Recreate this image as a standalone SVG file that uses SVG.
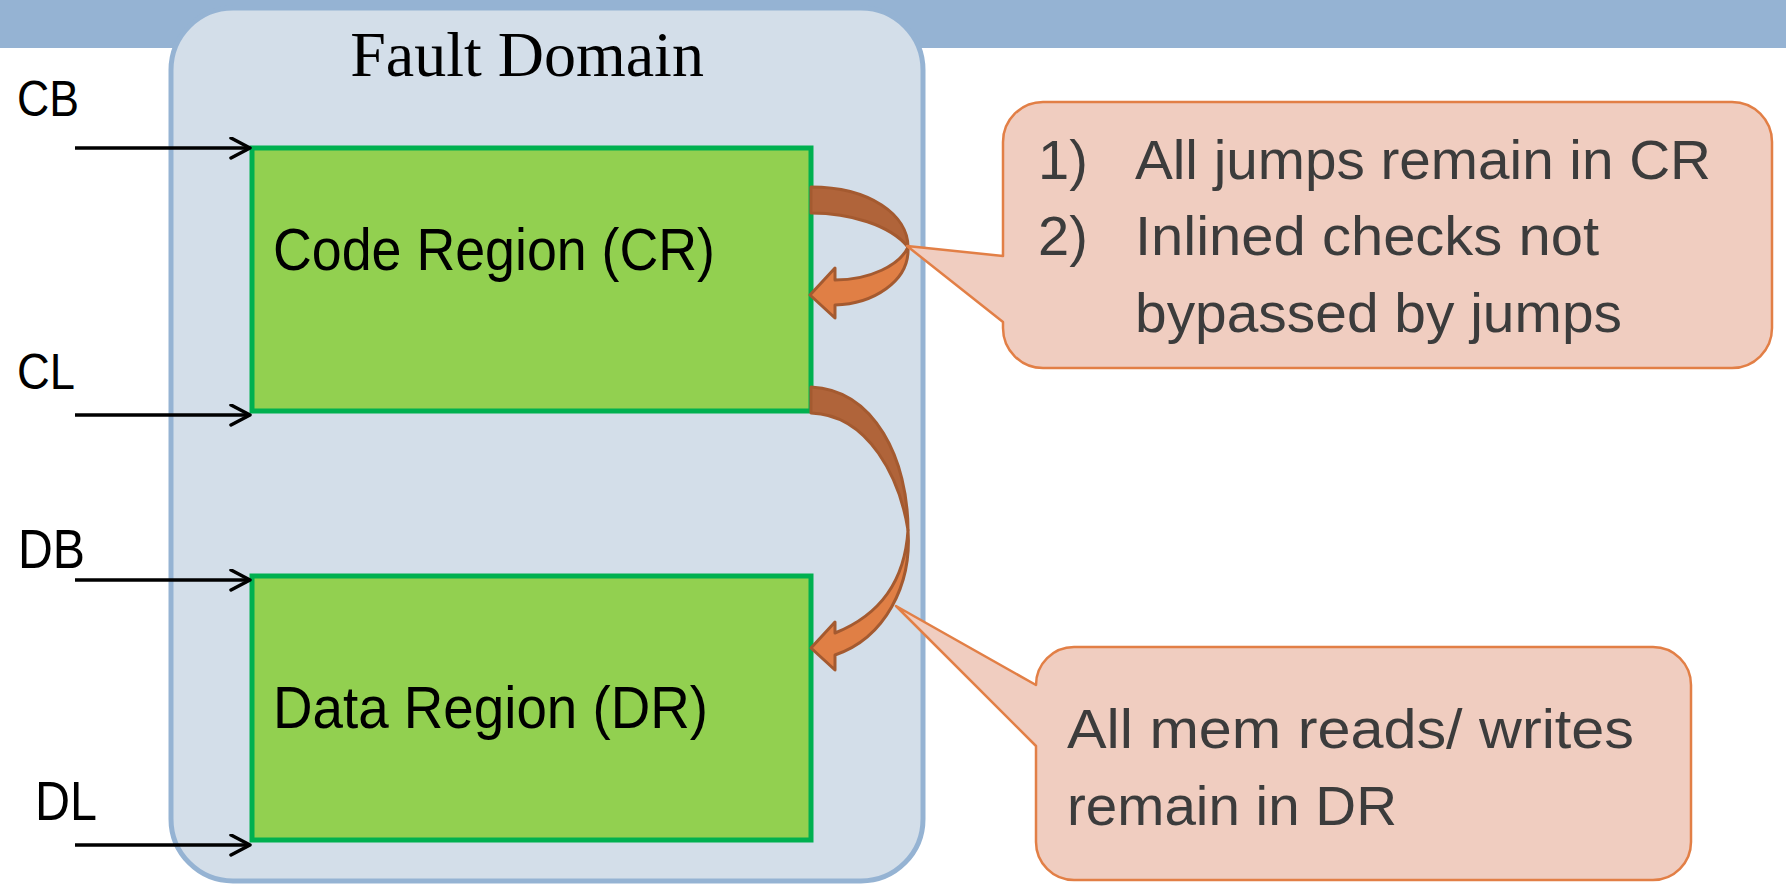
<svg xmlns="http://www.w3.org/2000/svg" width="1786" height="886" viewBox="0 0 1786 886">
<style>
.sans{font-family:"Liberation Sans",Arial,sans-serif;}
.lbl{font-family:"Liberation Sans",Arial,sans-serif;fill:#000;}
.region{fill:#92d050;stroke:#00b050;stroke-width:5;}
.co{fill:#f0cdc0;stroke:#e27f46;stroke-width:2.5;stroke-linejoin:round;}
.cot{font-family:"Liberation Sans",Arial,sans-serif;font-size:56px;fill:#3c3c3c;}
.in{stroke:#000;stroke-width:3.5;fill:none;}
.dark{fill:#b0643a;stroke:#a45a30;stroke-width:3;stroke-linejoin:round;}
.light{fill:#e07f45;stroke:#a45a30;stroke-width:3;stroke-linejoin:round;}
</style>
<defs>
<marker id="open" markerUnits="userSpaceOnUse" markerWidth="24" markerHeight="24" refX="21" refY="11" orient="auto">
<path d="M2,1 L21,11 L2,21" fill="none" stroke="#000" stroke-width="3.5" stroke-linecap="round" stroke-linejoin="round"/>
</marker>
</defs>
<rect width="1786" height="886" fill="#ffffff"/>
<g id="banner"><rect x="0" y="0" width="1786" height="48" fill="#95b3d3"/></g>
<g id="fault-domain">
<rect x="171" y="8" width="752" height="873" rx="62" ry="62" fill="#d3dee9" stroke="#95b3d3" stroke-width="5"/>
<text x="527" y="76" text-anchor="middle" style="font-family:'Liberation Serif','Times New Roman',serif;font-size:64px;fill:#000">Fault Domain</text>
</g>
<g id="code-region">
<rect class="region" x="252" y="148" width="559" height="263"/>
<text class="lbl" x="273" y="270" font-size="59" textLength="442" lengthAdjust="spacingAndGlyphs">Code Region (CR)</text>
</g>
<g id="data-region">
<rect class="region" x="252" y="576" width="559" height="264"/>
<text class="lbl" x="273" y="728" font-size="59" textLength="435" lengthAdjust="spacingAndGlyphs">Data Region (DR)</text>
</g>
<g id="inputs">
<text class="lbl" x="17" y="116" font-size="50" textLength="62" lengthAdjust="spacingAndGlyphs">CB</text>
<text class="lbl" x="17" y="389" font-size="50" textLength="58" lengthAdjust="spacingAndGlyphs">CL</text>
<text class="lbl" x="18" y="568" font-size="56" textLength="67" lengthAdjust="spacingAndGlyphs">DB</text>
<text class="lbl" x="35" y="820" font-size="56" textLength="62" lengthAdjust="spacingAndGlyphs">DL</text>
</g>
<g id="connectors">
<line class="in" x1="75" y1="148" x2="250" y2="148" marker-end="url(#open)"/>
<line class="in" x1="75" y1="415" x2="250" y2="415" marker-end="url(#open)"/>
<line class="in" x1="75" y1="580" x2="250" y2="580" marker-end="url(#open)"/>
<line class="in" x1="75" y1="845" x2="250" y2="845" marker-end="url(#open)"/>
<g id="jump-arrow">
<path class="dark" d="M811,187 C870,187 908,215 908,247 C890,225 850,213 811,213 Z"/>
<path class="light" d="M908,247 C910,282 872,304 835,305 L835,318 L810,295 L835,268 L835,280 C870,280 900,265 908,247 Z"/>
</g>
<g id="mem-arrow">
<path class="dark" d="M811,387 C875,390 908,460 908,530 C900,480 870,415 811,413 Z"/>
<path class="light" d="M908,530 C912,585 885,638 835,655 L835,670 L811,648 L835,622 L835,633 C880,615 905,580 908,530 Z"/>
</g>
</g>
<g id="callout-cr">
<path class="co" d="M1043,102 H1732 A40,40 0 0 1 1772,142 V328 A40,40 0 0 1 1732,368 H1043 A40,40 0 0 1 1003,328 V322 L907,246 L1003,256 V142 A40,40 0 0 1 1043,102 Z"/>
<text class="cot" x="1038" y="179">1)</text>
<text class="cot" x="1135" y="179" textLength="576" lengthAdjust="spacingAndGlyphs">All jumps remain in CR</text>
<text class="cot" x="1038" y="255">2)</text>
<text class="cot" x="1135" y="255" textLength="464" lengthAdjust="spacingAndGlyphs">Inlined checks not</text>
<text class="cot" x="1135" y="332" textLength="487" lengthAdjust="spacingAndGlyphs">bypassed by jumps</text>
</g>
<g id="callout-dr">
<path class="co" d="M1074,647 H1653 A38,38 0 0 1 1691,685 V842 A38,38 0 0 1 1653,880 H1074 A38,38 0 0 1 1036,842 V746 L896,606 L1036,685 A38,38 0 0 1 1074,647 Z"/>
<text class="cot" x="1067" y="748" textLength="567" lengthAdjust="spacingAndGlyphs">All mem reads/ writes</text>
<text class="cot" x="1067" y="825" textLength="330" lengthAdjust="spacingAndGlyphs">remain in DR</text>
</g>
</svg>
